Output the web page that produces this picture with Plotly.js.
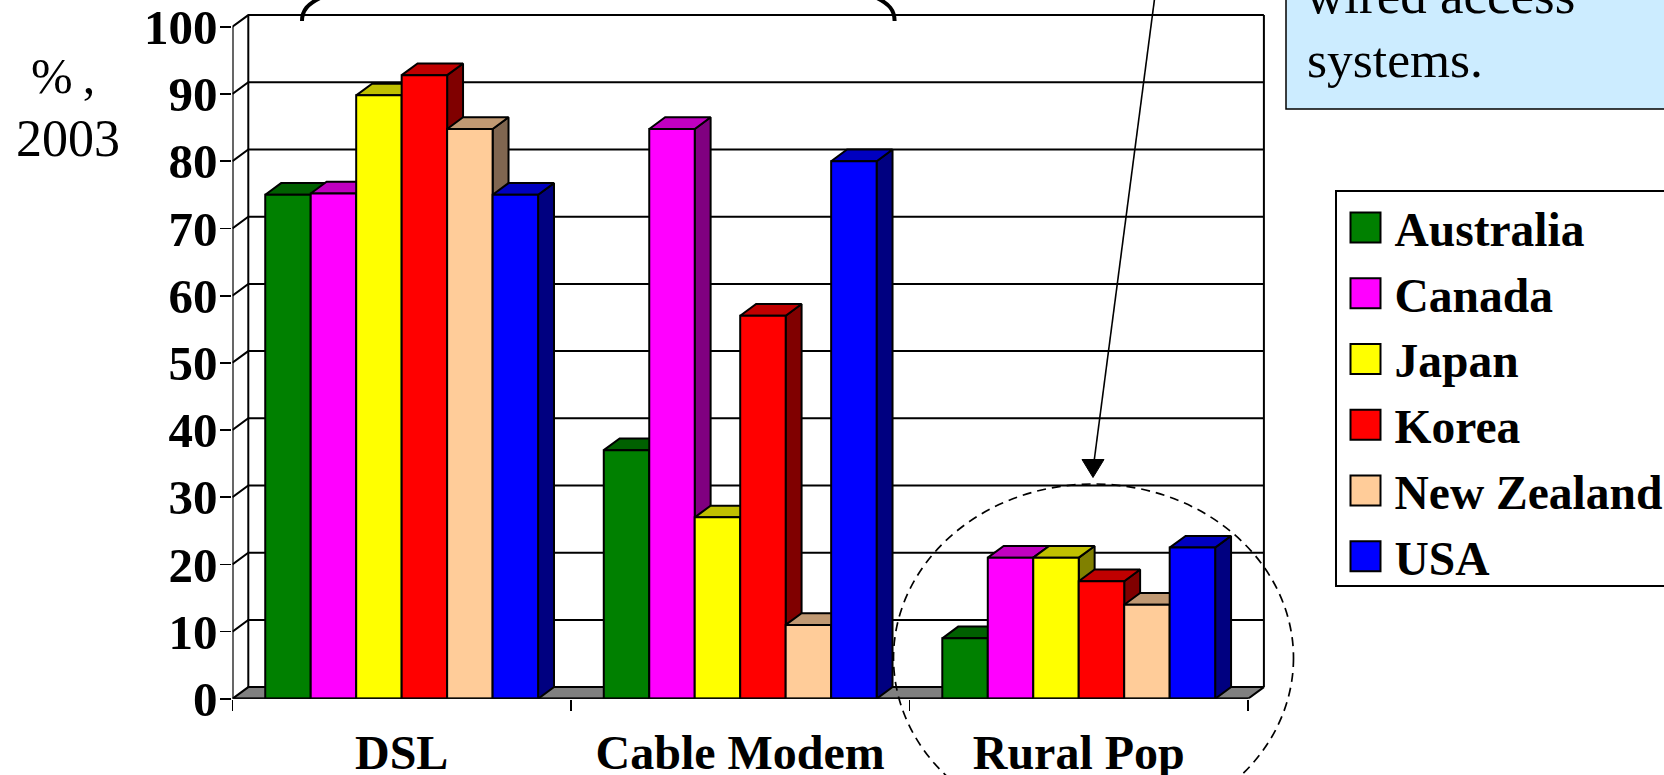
<!DOCTYPE html>
<html><head><meta charset="utf-8">
<script src="https://cdn.plot.ly/plotly-3.0.1.min.js"></script>
<style>html,body{margin:0;padding:0;background:#fff;overflow:hidden}</style>
</head><body><div id="chart" style="width:1664px;height:775px"></div>
<script>
const categories = ['DSL', 'Cable Modem', 'Rural Pop'];
const seriesNames = ['Australia', 'Canada', 'Japan', 'Korea', 'New Zealand', 'USA'];
const australia = [75, 37, 9];
const canada = [75.2, 84.8, 21];
const japan = [89.8, 27, 21];
const korea = [92.8, 57, 17.5];
const newZealand = [84.8, 11, 14];
const usa = [75, 80, 22.5];
const frontColors = ['#008000', '#FF00FF', '#FFFF00', '#FF0000', '#FFCC99', '#0000FF'];
const topColors = ['#006000', '#C000C0', '#C0C000', '#C00000', '#C09973', '#0000C0'];
const sideColors = ['#004000', '#800080', '#808000', '#800000', '#806650', '#000080'];
const yTicks = [0, 10, 20, 30, 40, 50, 60, 70, 80, 90, 100];
const seriesValues = [australia, canada, japan, korea, newZealand, usa];

const W = 1664, H = 775, serif = 'Liberation Serif';
const PX = v => v / W, PY = v => 1 - v / H;
const plotL = 232.4, plotR = 1248, plotB = 698.8, plotT = 26.8, depthPxX = 15.9, depthPxY = 11.7, padPx = 4;
const unitX = (plotR - plotL) / 3, unitY = (plotB - plotT) / 100;
const depthX = depthPxX / unitX, depthY = depthPxY / unitY;
const bargap = 0.194, barW = (1 - bargap) / seriesNames.length;
const xCenters = categories.map((_, i) => i + 0.5);
const edge = {color: '#000', width: 2};
const traces = [];

// floor and back wall
traces.push({x: [0, depthX, 3 + depthX, 3, 0], y: [0, depthY, depthY, 0, 0], mode: 'lines', fill: 'toself',
  fillcolor: '#808080', line: edge, hoverinfo: 'skip', showlegend: false});
const wx = [], wy = [];
yTicks.slice(1).forEach(v => { wx.push(0, depthX, 3 + depthX, null); wy.push(v, v + depthY, v + depthY, null); });
wx.push(depthX, depthX, null, 3 + depthX, 3 + depthX, null);
wy.push(depthY, 100 + depthY, null, depthY, 100 + depthY, null);
traces.push({x: wx, y: wy, mode: 'lines', line: edge, hoverinfo: 'skip', showlegend: false});

// 3-D sides and tops, left to right
seriesValues.forEach((vals, s) => {
  const sx = [], sy = [], tx = [], ty = [];
  vals.forEach((v, c) => {
    const l = c + bargap / 2 + s * barW, r = l + barW;
    sx.push(r, r + depthX, r + depthX, r, r, null); sy.push(0, depthY, v + depthY, v, 0, null);
    tx.push(l, l + depthX, r + depthX, r, l, null); ty.push(v, v + depthY, v + depthY, v, v, null);
  });
  traces.push({x: sx, y: sy, mode: 'lines', fill: 'toself', fillcolor: sideColors[s], line: edge, hoverinfo: 'skip', showlegend: false});
  traces.push({x: tx, y: ty, mode: 'lines', fill: 'toself', fillcolor: topColors[s], line: edge, hoverinfo: 'skip', showlegend: false});
});

// front faces
seriesValues.forEach((vals, s) => traces.push({
  type: 'bar', name: seriesNames[s], legendgroup: seriesNames[s], x: xCenters, y: vals, xaxis: 'x2', yaxis: 'y2',
  marker: {color: frontColors[s], line: {color: '#000', width: 2}}
}));

// front axis lines, limited to the front plane
traces.push({x: [0, 0, 3], y: [100, 0, 0], xaxis: 'x2', yaxis: 'y2', mode: 'lines', line: {color: '#000', width: 2.4},
  hoverinfo: 'skip', showlegend: false, cliponaxis: false});

const domainX = [PX(plotL), PX(plotR + depthPxX + padPx)], domainY = [PY(plotB), PY(plotT - depthPxY - padPx)];
const rangeX = [0, 3 + depthX + padPx / unitX], rangeY = [0, 100 + depthY + padPx / unitY];
const tickFont = {family: serif, size: 49, color: '#000', weight: 'bold'};
const layout = {
  width: W, height: H, margin: {l: 0, r: 0, t: 0, b: 0, pad: 0, autoexpand: false},
  paper_bgcolor: '#fff', plot_bgcolor: 'rgba(0,0,0,0)', barmode: 'group', bargap, bargroupgap: 0,
  showlegend: true,
  legend: {x: PX(1335), y: PY(188.5), xanchor: 'left', yanchor: 'top', bgcolor: '#fff', bordercolor: '#000', borderwidth: 1.5,
    itemwidth: 48, tracegroupgap: 1, font: {family: serif, size: 47.5, color: '#000', weight: 'bold'}},
  xaxis: {domain: domainX, range: rangeX, fixedrange: true, showgrid: false, zeroline: false, showline: false, ticks: '',
    tickmode: 'array', tickvals: xCenters, ticktext: categories, ticklabeloverflow: 'allow',
    tickfont: {family: serif, size: 48, color: '#000', weight: 'bold'}, ticklabelstandoff: 21, anchor: 'y'},
  yaxis: {domain: domainY, range: rangeY, fixedrange: true, visible: false, anchor: 'x'},
  xaxis2: {range: rangeX, overlaying: 'x', anchor: 'y2', fixedrange: true, showgrid: false, zeroline: false,
    showline: false, ticks: 'outside', ticklen: 11, tickwidth: 1.8, tickcolor: '#000',
    tickmode: 'array', tickvals: [0, 1, 2, 3], showticklabels: false},
  yaxis2: {range: rangeY, overlaying: 'y', anchor: 'x2', fixedrange: true, showgrid: false, zeroline: false,
    showline: false, ticks: 'outside', ticklen: 11, tickwidth: 1.8, tickcolor: '#000', ticklabeloverflow: 'allow',
    tickmode: 'array', tickvals: yTicks, tickfont: tickFont, ticklabelstandoff: -7},
  annotations: [
    {text: '%\u2009,', x: PX(63), y: PY(76), xref: 'paper', yref: 'paper', xanchor: 'center', yanchor: 'middle', showarrow: false, font: {family: serif, size: 50, color: '#000'}},
    {text: '2003', x: PX(68), y: PY(138), xref: 'paper', yref: 'paper', xanchor: 'center', yanchor: 'middle', showarrow: false, font: {family: serif, size: 52, color: '#000'}},
    {text: 'wired access', x: PX(1304), y: PY(-5), xref: 'paper', yref: 'paper', xanchor: 'left', yanchor: 'middle', showarrow: false, font: {family: serif, size: 53, color: '#000'}},
    {text: 'systems.', x: PX(1304.5), y: PY(60), xref: 'paper', yref: 'paper', xanchor: 'left', yanchor: 'middle', showarrow: false, font: {family: serif, size: 51.5, color: '#000'}}
  ],
  shapes: [
    {type: 'rect', xref: 'paper', yref: 'paper', x0: PX(1286), x1: PX(1700), y0: PY(109), y1: PY(-20), fillcolor: '#CCECFF', line: {color: '#000', width: 1.5}, layer: 'below'},
    {type: 'path', xref: 'paper', yref: 'paper', path: `M${PX(302)},${PY(21)} C${PX(302)},${PY(10)} ${PX(308)},${PY(4)} ${PX(320)},${PY(-2)}`, line: {color: '#000', width: 4}},
    {type: 'path', xref: 'paper', yref: 'paper', path: `M${PX(894.6)},${PY(21)} C${PX(894.6)},${PY(10)} ${PX(889)},${PY(4)} ${PX(877)},${PY(-2)}`, line: {color: '#000', width: 4}},
    {type: 'line', xref: 'paper', yref: 'paper', x0: PX(1157), y0: PY(-20), x1: PX(1094), y1: PY(462), line: {color: '#000', width: 1.6}},
    {type: 'path', xref: 'paper', yref: 'paper', path: `M${PX(1082)},${PY(459.5)} L${PX(1104)},${PY(459.5)} L${PX(1093)},${PY(477.5)} Z`, fillcolor: '#000', line: {color: '#000', width: 1}},
    {type: 'circle', xref: 'paper', yref: 'paper', x0: PX(893.5), x1: PX(1293.5), y0: PY(484), y1: PY(832), line: {color: '#000', width: 1.7, dash: '9px,6px'}}
  ]
};

function tuneLegend() {
  document.querySelectorAll('#chart .legend .legendbar path, #chart .legend .legendsymbols path').forEach(p => {
    if (p.getAttribute('d')) p.setAttribute('d', 'M15,15H-15V-15H15Z');
  });
  const bg = document.querySelector('#chart .legend rect.bg');
  if (bg) { bg.setAttribute('y', 2.5); bg.setAttribute('height', 395); bg.setAttribute('width', 420); }
}
Plotly.newPlot('chart', traces, layout, {displayModeBar: false, staticPlot: true}).then(gd => {
  tuneLegend();
  gd.on('plotly_afterplot', tuneLegend);
});
</script></body></html>
